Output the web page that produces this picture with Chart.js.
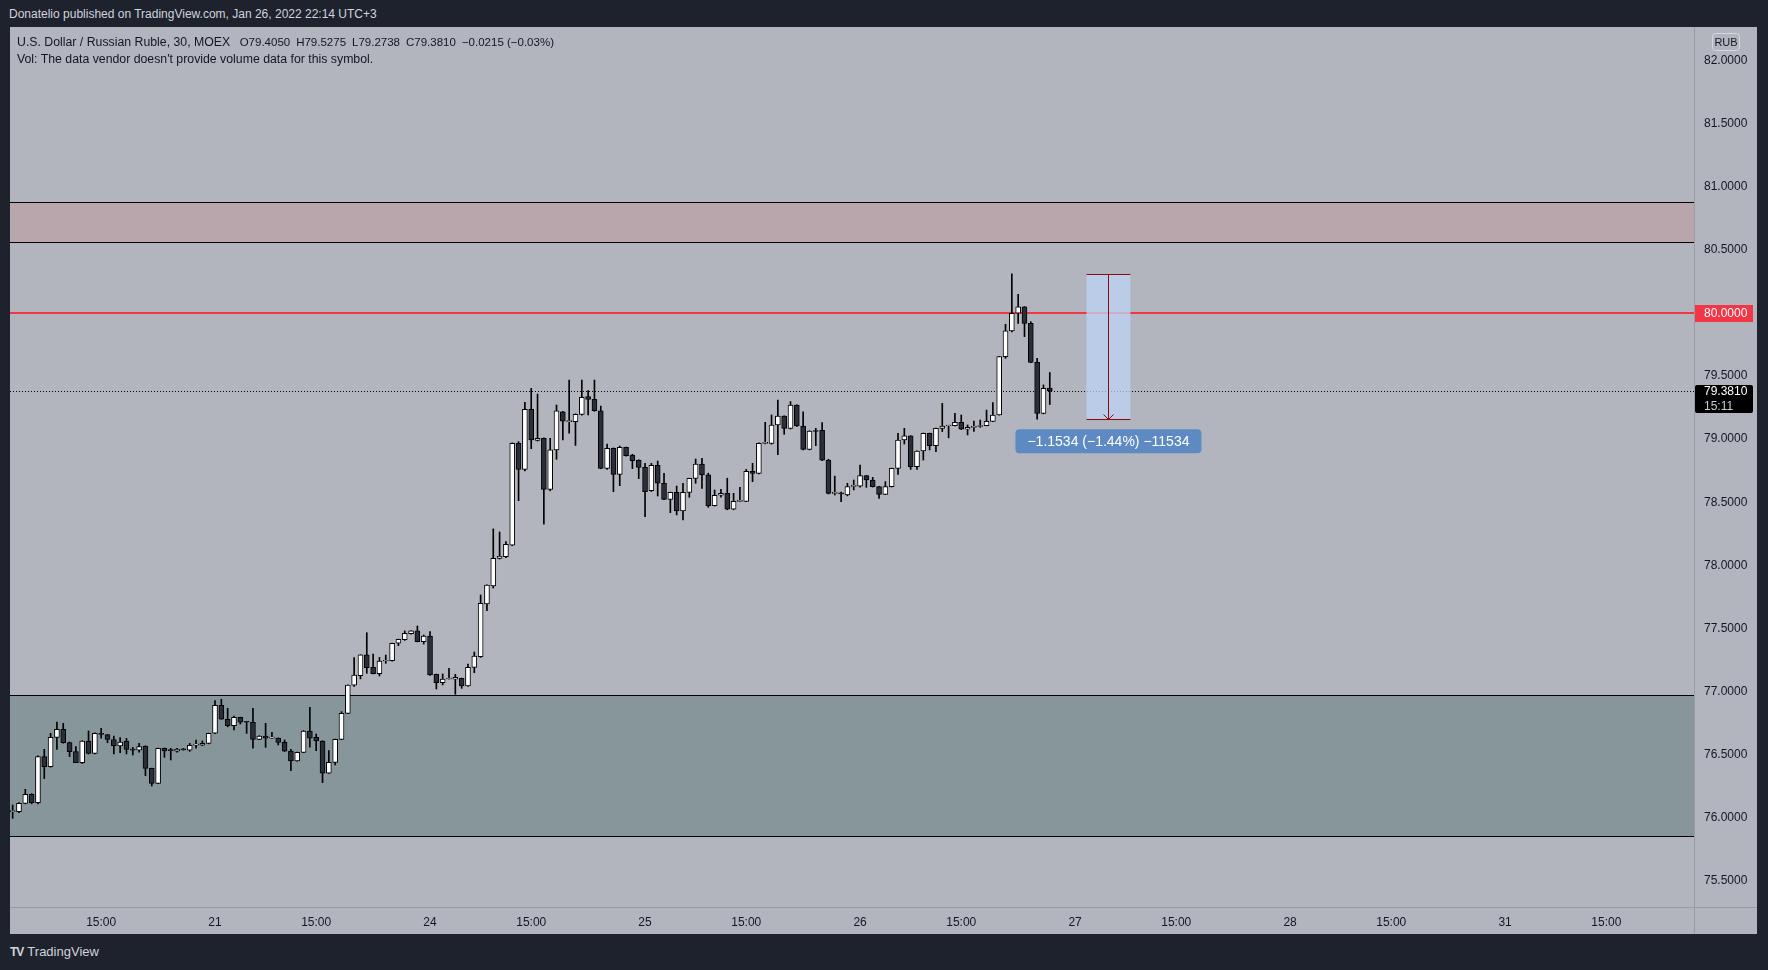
<!DOCTYPE html>
<html>
<head>
<meta charset="utf-8">
<script src="https://cdn.jsdelivr.net/npm/chart.js@4.4.1/dist/chart.umd.min.js"></script>
<style>
  body { margin: 0; width: 1768px; height: 970px; background: #1e222d; position: relative; overflow: hidden;
         font-family: 'Liberation Sans', Arial, sans-serif; }
  #published { position: absolute; left: 9px; top: 7px; font-size: 12px; color: #d1d4dc; white-space: nowrap; }
  #chart { position: absolute; left: 10px; top: 27px; }
  #legend { position: absolute; left: 17px; top: 34px; font-size: 12.3px; line-height: 17px; color: #131722; white-space: nowrap; }
  #legend span { margin-left: 6px; font-size: 11.5px; }
  #logo { position: absolute; left: 10px; top: 944px; font-size: 13px; color: #d1d4dc; white-space: nowrap; }
  #logo b { font-size: 12px; letter-spacing: -1px; margin-right: 4px; }
</style>
</head>
<body>
<div id="published">Donatelio published on TradingView.com, Jan 26, 2022 22:14 UTC+3</div>
<canvas id="chart" width="1747" height="907"></canvas>
<div id="legend">U.S. Dollar / Russian Ruble, 30, MOEX <span>O79.4050</span><span>H79.5275</span><span>L79.2738</span><span>C79.3810</span><span>−0.0215 (−0.03%)</span><br>Vol: The data vendor doesn't provide volume data for this symbol.</div>
<div id="logo"><b>TV</b>TradingView</div>
<script>
// 30 min bars, 34 bars per session (07:00 - 23:30), bar 0 = Jan 20 07:00
const firstBar = 2;
const opens = [76.048,76.048,76.114,76.185,76.12,76.484,76.404,76.637,76.70,76.595,76.523,76.436,76.608,76.51,76.669,76.658,76.62,76.568,76.608,76.542,76.536,76.568,76.391,76.272,76.55,76.536,76.528,76.542,76.536,76.575,76.574,76.589,
  76.669,76.89,76.78,76.73,76.795,76.76,76.756,76.621,76.647,76.63,76.63,76.597,76.528,76.449,76.518,76.687,76.637,76.608,76.352,76.439,76.621,76.827,77.05,77.126,77.29,77.191,77.141,77.242,77.244,77.382,77.41,77.458,77.48,77.395,
  77.44,77.136,77.07,77.099,77.097,77.104,77.044,77.191,77.276,77.693,77.836,78.055,78.069,78.16,78.966,78.76,79.236,78.99,79.006,78.602,78.914,79.217,79.138,79.138,79.196,79.336,79.315,79.225,78.768,78.927,78.721,78.935,78.871,78.834,
  78.776,78.591,78.792,78.65,78.523,78.578,78.43,78.578,78.689,78.803,78.716,78.473,78.555,78.57,78.444,78.507,78.507,78.745,78.729,78.966,78.966,79.112,79.183,79.085,79.27,79.104,78.919,79.064,79.07,78.834,78.57,78.57,78.557,78.626,
  78.628,78.71,78.676,78.623,78.562,78.623,78.768,78.993,79.025,78.782,78.906,79.046,78.948,79.085,79.104,79.107,79.133,79.078,79.093,79.10,79.107,79.14,79.191,79.653,79.857,79.997,80.049,79.917,79.608,79.204,79.405];
const highs = [76.101,76.12,76.225,76.19,76.49,76.542,76.669,76.758,76.748,76.60,76.563,76.61,76.687,76.672,76.708,76.66,76.647,76.634,76.629,76.557,76.589,76.57,76.393,76.552,76.552,76.55,76.55,76.548,76.589,76.616,76.608,76.67,
  76.928,76.938,76.867,76.806,76.797,76.762,76.867,76.65,76.748,76.676,76.632,76.616,76.542,76.52,76.69,76.875,76.663,76.61,76.531,76.623,76.84,77.052,77.268,77.292,77.466,77.297,77.27,77.289,77.384,77.415,77.48,77.483,77.519,77.448,
  77.474,77.138,77.139,77.184,77.136,77.106,77.218,77.313,77.765,77.846,78.288,78.264,78.187,78.97,78.98,79.291,79.402,79.357,79.01,79.006,79.27,79.22,79.468,79.20,79.468,79.384,79.468,79.262,78.96,78.93,78.945,78.937,78.88,78.836,
  78.808,78.808,78.826,78.729,78.58,78.628,78.65,78.69,78.842,78.848,78.73,78.597,78.602,78.69,78.57,78.618,78.76,78.808,78.97,79.133,79.191,79.31,79.185,79.297,79.272,79.217,79.066,79.085,79.13,78.84,78.707,78.58,78.65,78.676,
  78.795,78.712,78.697,78.625,78.663,78.77,79.046,79.085,79.027,78.908,79.048,79.048,79.087,79.283,79.11,79.204,79.191,79.112,79.143,79.151,79.23,79.289,79.655,79.91,80.3104,80.147,80.05,79.93,79.64,79.429,79.5275];
const lows = [75.995,76.04,76.11,76.11,76.11,76.31,76.40,76.542,76.59,76.484,76.436,76.43,76.505,76.505,76.63,76.594,76.505,76.515,76.505,76.497,76.52,76.333,76.251,76.27,76.478,76.457,76.52,76.535,76.526,76.55,76.57,76.585,
  76.665,76.78,76.72,76.695,76.743,76.668,76.55,76.618,76.558,76.628,76.576,76.525,76.373,76.447,76.515,76.558,76.531,76.278,76.35,76.418,76.62,76.825,77.04,77.10,77.144,77.139,77.123,77.223,77.24,77.363,77.405,77.455,77.393,77.376,
  77.128,77.02,77.052,77.097,76.978,77.025,77.04,77.149,77.27,77.64,77.82,78.05,78.06,78.155,78.512,78.747,78.924,78.985,78.325,78.59,78.84,78.993,79.046,78.95,79.19,79.191,79.22,78.765,78.76,78.584,78.631,78.865,78.766,78.687,
  78.385,78.585,78.549,78.52,78.417,78.399,78.359,78.539,78.65,78.61,78.46,78.47,78.539,78.44,78.44,78.505,78.505,78.663,78.725,78.962,78.96,78.877,79.038,79.08,79.10,78.915,78.915,78.948,78.83,78.565,78.557,78.504,78.55,78.597,
  78.62,78.618,78.62,78.53,78.56,78.62,78.721,78.961,78.76,78.76,78.834,78.914,78.90,79.06,79.01,79.105,79.075,79.033,79.06,79.093,79.105,79.138,79.19,79.64,79.85,79.917,79.812,79.605,79.157,79.20,79.2738];
const closes = [76.050,76.114,76.185,76.12,76.484,76.404,76.637,76.70,76.595,76.523,76.436,76.608,76.51,76.669,76.66,76.62,76.568,76.60,76.542,76.536,76.563,76.391,76.272,76.55,76.53,76.531,76.544,76.538,76.573,76.578,76.59,76.669,
  76.89,76.78,76.73,76.795,76.756,76.756,76.621,76.647,76.63,76.632,76.597,76.528,76.449,76.518,76.687,76.63,76.608,76.352,76.439,76.621,76.827,77.05,77.131,77.29,77.189,77.141,77.242,77.244,77.382,77.413,77.461,77.48,77.395,77.44,
  77.131,77.07,77.099,77.101,77.112,77.044,77.191,77.281,77.699,77.844,78.055,78.074,78.166,78.966,78.76,79.236,78.993,79.006,78.602,78.914,79.225,79.143,79.140,79.196,79.331,79.315,79.225,78.768,78.927,78.721,78.935,78.869,78.829,78.776,
  78.583,78.792,78.65,78.523,78.578,78.43,78.578,78.689,78.803,78.716,78.473,78.555,78.57,78.444,78.507,78.512,78.745,78.729,78.966,78.969,79.112,79.183,79.085,79.27,79.104,78.919,79.064,79.06,78.834,78.57,78.572,78.566,78.623,78.63,
  78.71,78.676,78.623,78.562,78.623,78.768,78.993,79.025,78.782,78.906,79.046,78.948,79.085,79.104,79.107,79.133,79.078,79.093,79.098,79.107,79.14,79.191,79.653,79.857,79.997,80.049,79.917,79.608,79.204,79.4025,79.381];

const timeTickBars = [16, 34, 50, 68, 84, 102, 118, 136, 152, 170, 186, 204, 220, 238, 254];
const timeTickLabels = ['15:00','21','15:00','24','15:00','25','15:00','26','15:00','27','15:00','28','15:00','31','15:00'];
const priceTicks = [75.5, 76.0, 76.5, 77.0, 77.5, 78.0, 78.5, 79.0, 79.5, 80.0, 80.5, 81.0, 81.5, 82.0];

const supplyZone = [80.559, 80.88];
const demandZone = [75.858, 76.976];
const resistanceLevel = 80.0;
const lastPrice = 79.381;
const lastTime = '15:11';
const measurePrices = [80.3104, 79.157];
const measureBars = [171.8, 178.75];
const measureText = '−1.1534 (−1.44%) −11534';

const bodies = opens.map((o, k) => ({ x: firstBar + k, y: [o, closes[k]] }));
const wicks = lows.map((l, k) => ({ x: firstBar + k, y: [l, highs[k]] }));
const bodyColours = opens.map((o, k) => closes[k] >= o ? '#ffffff' : '#2a2e39');

function roundRect(ctx, x, y, w, h, r) {
  ctx.beginPath();
  ctx.moveTo(x + r, y);
  ctx.arcTo(x + w, y, x + w, y + h, r);
  ctx.arcTo(x + w, y + h, x, y + h, r);
  ctx.arcTo(x, y + h, x, y, r);
  ctx.arcTo(x, y, x + w, y, r);
  ctx.closePath();
}

// stop chart.js from padding the plot for the tick labels
function noPadding(s) {
  s.paddingLeft = 0; s.paddingRight = 0; s.paddingTop = 0; s.paddingBottom = 0;
}

const overlay = {
  id: 'overlay',
  beforeDraw(chart) {
    const ctx = chart.ctx;
    ctx.save();
    ctx.fillStyle = '#b2b5be';
    ctx.fillRect(0, 0, chart.width, chart.height);
    ctx.restore();
  },
  beforeDatasetsDraw(chart) {
    const { ctx, chartArea: a, scales: { x, y } } = chart;
    ctx.save();
    ctx.beginPath();
    ctx.rect(a.left, a.top, a.width, a.height);
    ctx.clip();
    // zones
    [[supplyZone, '#b9a5ac'], [demandZone, '#86969a']].forEach(([z, col]) => {
      const top = Math.round(y.getPixelForValue(z[1])) + 0.5;
      const bot = Math.round(y.getPixelForValue(z[0])) + 0.5;
      ctx.fillStyle = col;
      ctx.fillRect(a.left, top, a.width, bot - top);
      ctx.strokeStyle = '#000';
      ctx.lineWidth = 1;
      ctx.beginPath();
      ctx.moveTo(a.left, top); ctx.lineTo(a.right, top);
      ctx.moveTo(a.left, bot); ctx.lineTo(a.right, bot);
      ctx.stroke();
    });
    // red level
    const ry = Math.round(y.getPixelForValue(resistanceLevel));
    ctx.strokeStyle = '#f23645';
    ctx.lineWidth = 2;
    ctx.beginPath(); ctx.moveTo(a.left, ry); ctx.lineTo(a.right, ry); ctx.stroke();
    // last price dotted
    const ly = Math.round(y.getPixelForValue(lastPrice)) + 0.5;
    ctx.strokeStyle = '#000';
    ctx.lineWidth = 1;
    ctx.setLineDash([1, 2]);
    ctx.beginPath(); ctx.moveTo(a.left, ly); ctx.lineTo(a.right, ly); ctx.stroke();
    ctx.setLineDash([]);
    // measure box
    const mx0 = x.getPixelForValue(measureBars[0]), mx1 = x.getPixelForValue(measureBars[1]);
    const my0 = Math.round(y.getPixelForValue(measurePrices[0])) + 0.5;
    const my1 = Math.round(y.getPixelForValue(measurePrices[1])) + 0.5;
    ctx.fillStyle = 'rgba(190, 212, 245, 0.75)';
    ctx.fillRect(mx0, my0, mx1 - mx0, my1 - my0);
    ctx.strokeStyle = '#8b0b0b';
    ctx.beginPath();
    ctx.moveTo(mx0, my0); ctx.lineTo(mx1, my0);
    ctx.moveTo(mx0, my1); ctx.lineTo(mx1, my1);
    const mc = Math.round((mx0 + mx1) / 2) + 0.5;
    ctx.moveTo(mc, my0); ctx.lineTo(mc, my1);
    ctx.moveTo(mc - 5, my1 - 5); ctx.lineTo(mc, my1); ctx.lineTo(mc + 5, my1 - 5);
    ctx.stroke();
    ctx.restore();
  },
  afterDraw(chart) {
    const { ctx, chartArea: a, scales: { x, y } } = chart;
    ctx.save();
    // axis separators
    ctx.strokeStyle = '#9a9ca4';
    ctx.lineWidth = 1;
    ctx.beginPath();
    ctx.moveTo(0, a.bottom + 0.5); ctx.lineTo(chart.width, a.bottom + 0.5);
    ctx.moveTo(a.right + 0.5, 0); ctx.lineTo(a.right + 0.5, chart.height);
    ctx.stroke();
    ctx.font = '12px "Liberation Sans", Arial, sans-serif';
    ctx.textBaseline = 'middle';
    ctx.textAlign = 'left';
    // red level label
    const ry = y.getPixelForValue(resistanceLevel);
    ctx.fillStyle = '#f23645';
    ctx.fillRect(a.right + 1, Math.round(ry) - 8, 58, 17);
    ctx.fillStyle = '#ffffff';
    ctx.fillText(resistanceLevel.toFixed(4), a.right + 10, ry + 0.5);
    // last price label
    const ly = y.getPixelForValue(lastPrice);
    ctx.fillStyle = '#000000';
    roundRect(ctx, a.right + 1, Math.round(ly) - 6, 58, 28, 2);
    ctx.fill();
    ctx.fillStyle = '#ffffff';
    ctx.fillText(lastPrice.toFixed(4), a.right + 10, ly + 1);
    ctx.fillStyle = '#c8cad0';
    ctx.fillText(lastTime, a.right + 10, ly + 16);
    // currency badge
    ctx.strokeStyle = '#d6d8de';
    roundRect(ctx, a.right + 18.5, 6.5, 27, 17, 3);
    ctx.stroke();
    ctx.fillStyle = '#131722';
    ctx.font = '11px "Liberation Sans", Arial, sans-serif';
    ctx.textAlign = 'center';
    ctx.fillText('RUB', a.right + 32, 15.5);
    // measure label
    const mx0 = x.getPixelForValue(measureBars[0]), mx1 = x.getPixelForValue(measureBars[1]);
    const mc = (mx0 + mx1) / 2;
    const my1 = y.getPixelForValue(measurePrices[1]);
    ctx.fillStyle = '#5e8ac4';
    roundRect(ctx, mc - 93, my1 + 10, 186, 24, 4);
    ctx.fill();
    ctx.fillStyle = '#ffffff';
    ctx.font = '14px "Liberation Sans", Arial, sans-serif';
    ctx.fillText(measureText, mc, my1 + 22.5);
    ctx.restore();
  }
};

new Chart(document.getElementById('chart'), {
  type: 'bar',
  data: {
    datasets: [
      {
        label: 'bodies',
        data: bodies,
        backgroundColor: bodyColours,
        borderColor: '#000000',
        borderWidth: 1,
        borderSkipped: false,
        barThickness: 5,
        minBarLength: 1,
        grouped: false,
        order: 0
      },
      {
        label: 'wicks',
        data: wicks,
        backgroundColor: '#000000',
        borderWidth: 0,
        barThickness: 1,
        grouped: false,
        order: 1
      }
    ]
  },
  options: {
    responsive: false,
    devicePixelRatio: 1,
    animation: false,
    layout: { padding: 0 },
    plugins: { legend: { display: false }, tooltip: { enabled: false } },
    scales: {
      x: {
        type: 'linear',
        offset: false,
        min: 10 / 6.324,
        max: 1694 / 6.324,
        afterBuildTicks: (s) => { s.ticks = timeTickBars.map(v => ({ value: v })); },
        afterFit: (s) => { s.height = 27; noPadding(s); },
        ticks: {
          autoSkip: false,
          maxRotation: 0,
          padding: 8,
          color: '#131722',
          font: { family: '"Liberation Sans", Arial, sans-serif', size: 12 },
          callback: (v) => timeTickLabels[timeTickBars.indexOf(v)]
        },
        grid: { display: false, drawTicks: false, offset: false },
        border: { display: false }
      },
      y: {
        type: 'linear',
        position: 'right',
        min: 82 - (880 - 33.5) / 126.2,
        max: 82 + 33.5 / 126.2,
        afterBuildTicks: (s) => { s.ticks = priceTicks.map(v => ({ value: v })); },
        afterFit: (s) => { s.width = 63; noPadding(s); },
        ticks: {
          padding: 10,
          color: '#131722',
          font: { family: '"Liberation Sans", Arial, sans-serif', size: 12 },
          callback: (v) => v.toFixed(4)
        },
        grid: { display: false, drawTicks: false },
        border: { display: false }
      }
    }
  },
  plugins: [overlay]
});
</script>
</body>
</html>
